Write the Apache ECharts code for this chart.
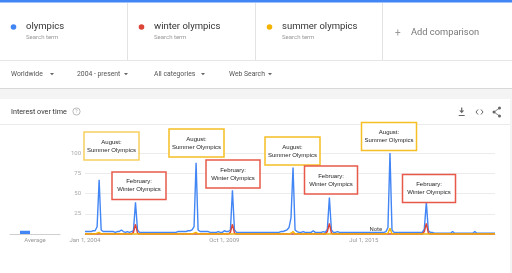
<!DOCTYPE html>
<html>
<head>
<meta charset="utf-8">
<script src="https://cdn.jsdelivr.net/npm/echarts@6/dist/echarts.min.js"></script>
<style>
html,body{margin:0;padding:0;background:#fff;}
#chart{width:512px;height:273px;}
</style>
</head>
<body>
<div id="chart"></div>
<script>
// ---- data ----
var startYear = 2004, endYear = 2020;
var seriesNames = ['olympics', 'winter olympics', 'summer olympics'];
var seriesColors = ['#4285f4', '#db4437', '#f4b400'];

// monthly interest, Jan 2004 .. Dec 2020
var olympics = [
  3,3,3,3,4,4,9,67,5,3,3,3,        // 2004
  3,3,3,2,3,3,5,3,2,3,2,3,         // 2005
  4,39,5,2,2,2,2,2,2,2,2,2,        // 2006
  2,2,2,2,2,2,2,2,2,2,3,3,         // 2007
  3,3,3,4,4,5,9,88,5,3,3,3,        // 2008
  3,3,2,2,2,2,3,2,2,4,3,3,         // 2009
  5,54,5,2,2,2,2,2,2,2,2,2,        // 2010
  2,2,2,2,2,2,2,2,2,2,2,2,         // 2011
  2,3,3,4,5,8,20,82,5,3,2,2,       // 2012
  3,2,2,2,2,4,2,2,2,2,3,2,         // 2013
  6,45,5,2,2,3,2,2,2,2,2,2,        // 2014
  2,2,2,2,2,2,2,2,2,2,2,2,         // 2015
  2,2,2,2,2,3,8,100,5,2,2,2,       // 2016
  2,2,2,2,2,2,2,2,2,2,2,2,         // 2017
  6,39,4,2,2,1,1,1,1,1,1,1,        // 2018
  1,1,3,1,1,1,1,1,1,1,1,1,         // 2019
  1,3,1,1,1,1,1,1,1,1,1,1          // 2020
];
var winterOlympics = [
  0,0,0,0,0,0,0,0,0,0,0,0,
  0,0,0,0,0,0,0,0,0,0,0,0,
  2,12,1,0,0,0,0,0,0,0,0,0,
  0,0,0,0,0,0,0,0,0,0,0,0,
  0,0,0,0,0,0,0,0,0,0,0,0,
  0,0,0,0,0,0,0,0,0,0,0,0,
  2,12,1,0,0,0,0,0,0,0,0,0,
  0,0,0,0,0,0,0,0,0,0,0,0,
  0,0,0,0,0,0,0,0,0,0,0,0,
  0,0,0,0,0,0,0,0,0,0,0,0,
  3,13,1,0,0,0,0,0,0,0,0,0,
  0,0,0,0,0,0,0,0,0,0,0,0,
  0,0,0,0,0,0,0,0,0,0,0,0,
  0,0,0,0,0,0,0,0,0,0,0,0,
  3,13,1,0,0,0,0,0,0,0,0,0,
  0,0,0,0,0,0,0,0,0,0,0,0,
  0,0,0,0,0,0,0,0,0,0,0,0
];
var summerOlympics = [
  0,0,0,0,0,0,1,2,0,0,0,0,
  0,0,0,0,0,0,0,0,0,0,0,0,
  0,0,0,0,0,0,0,0,0,0,0,0,
  0,0,0,0,0,0,0,0,0,0,0,0,
  0,0,0,0,0,0,1,2,0,0,0,0,
  0,0,0,0,0,0,0,0,0,0,0,0,
  0,0,0,0,0,0,0,0,0,0,0,0,
  0,0,0,0,0,0,0,0,0,0,0,0,
  0,0,0,0,0,0,1,3,0,0,0,0,
  0,0,0,0,0,0,0,0,0,0,0,0,
  0,0,0,0,0,0,0,0,0,0,0,0,
  0,0,0,0,0,0,0,0,0,0,0,0,
  0,0,0,0,0,0,1,7,0,0,0,0,
  0,0,0,0,0,0,0,0,0,0,0,0,
  0,0,0,0,0,0,0,0,0,0,0,0,
  0,0,0,0,0,0,0,0,0,0,0,0,
  0,0,0,0,0,0,0,0,0,0,0,0
];
var averages = [4, 0, 0];
var tickMonths = ['2004-01', '2009-10', '2015-07'];
var tickLabels = ['Jan 1, 2004', 'Oct 1, 2009', 'Jul 1, 2015'];
var yTicks = [0, 25, 50, 75, 100];
var noteMonth = '2016-01';
var filters = ['Worldwide', '2004 - present', 'All categories', 'Web Search'];
var annotations = [
  {kind: 'summer', text: 'August:\nSummer Olympics', month: '2004-08'},
  {kind: 'winter', text: 'February:\nWinter Olympics', month: '2006-02'},
  {kind: 'summer', text: 'August:\nSummer Olympics', month: '2008-08'},
  {kind: 'winter', text: 'February:\nWinter Olympics', month: '2010-02'},
  {kind: 'summer', text: 'August:\nSummer Olympics', month: '2012-08'},
  {kind: 'winter', text: 'February:\nWinter Olympics', month: '2014-02'},
  {kind: 'summer', text: 'August:\nSummer Olympics', month: '2016-08'},
  {kind: 'winter', text: 'February:\nWinter Olympics', month: '2018-02'}
];

// categories
var months = [];
for (var y = startYear; y <= endYear; y++) {
  for (var m = 1; m <= 12; m++) months.push(y + '-' + (m < 10 ? '0' + m : m));
}

// ---- layout (pixels) ----
var annBoxes = [
  [84, 132, 55, 28], [112, 172, 54, 27.5], [169, 129, 55, 28], [206, 160, 54, 28],
  [265, 137, 55, 28], [304.5, 166, 53, 28], [361.5, 122.5, 55, 28], [402.5, 174.5, 53, 28]
];
var annStroke = {summer: '#f6bf26', winter: '#e8594a'};
var filterX = [[11, 52], [77, 126], [154, 203], [229, 270]];
var legendX = [13.5, 141.5, 269.5];

var FONT = 'Roboto, "Liberation Sans", Arial, sans-serif';
var AFONT = '"Liberation Sans", Arial, sans-serif';

var g = [];
function txt(x, y, t, size, color, align, extra) {
  var s = {text: t, x: x, y: y, font: (extra || '') + ' ' + size + 'px ' + FONT, fill: color,
    textAlign: align || 'left', align: align || 'left', textVerticalAlign: 'middle', verticalAlign: 'middle'};
  return {type: 'text', style: s, z: 10, silent: true};
}
function line(x1, y1, x2, y2, color, w, z) {
  return {type: 'line', shape: {x1: x1, y1: y1, x2: x2, y2: y2}, style: {stroke: color, lineWidth: w || 1}, z: z || 5, silent: true};
}
// top bar
g.push({type: 'rect', shape: {x: 0, y: 0, width: 512, height: 2.5}, style: {fill: '#4285f4'}, z: 5});
// legend cards
[127.5, 255.5, 382.5].forEach(function (x) { g.push(line(x, 3, x, 60, '#e3e3e3', 1)); });
g.push(line(0, 60.5, 512, 60.5, '#e6e6e6', 1));
seriesNames.forEach(function (n, i) {
  g.push({type: 'circle', shape: {cx: legendX[i], cy: 27, r: 2.8}, style: {fill: seriesColors[i]}, z: 10});
  g.push(txt(legendX[i] + 12.5, 27, n, 9.5, '#333'));
  g.push(txt(legendX[i] + 12.5, 37.5, 'Search term', 6, '#999'));
});
g.push(txt(395, 33, '+', 10, '#999'));
g.push(txt(411, 33, 'Add comparison', 9.3, '#777'));
// filters
filters.forEach(function (f, i) {
  g.push(txt(filterX[i][0], 74, f, 6.8, '#555'));
  var ax = filterX[i][1];
  g.push({type: 'polygon', shape: {points: [[ax - 2, 73], [ax + 2, 73], [ax, 75.3]]}, style: {fill: '#666'}, z: 10});
});
// gray band + shadow
g.push({type: 'rect', shape: {x: 0, y: 88, width: 512, height: 11}, style: {fill: '#f4f4f4'}, z: 1});
g.push(line(0, 88.5, 512, 88.5, '#d8d8d8', 1));
g.push({type: 'rect', shape: {x: 510, y: 99, width: 2, height: 174}, style: {fill: '#f4f4f4'}, z: 1});
// card header
g.push(txt(11, 112, 'Interest over time', 7.2, '#333'));
g.push({type: 'circle', shape: {cx: 76.5, cy: 111.5, r: 3.6}, style: {fill: 'none', stroke: '#aaa', lineWidth: 0.8}, z: 10});
g.push(txt(76.5, 111.8, '?', 5, '#aaa', 'center'));
g.push(line(0, 124.5, 510, 124.5, '#ebebeb', 1));
// download icon
g.push(line(461.7, 107.5, 461.7, 111.5, '#666', 1.2));
g.push({type: 'polygon', shape: {points: [[459.2, 110.5], [464.2, 110.5], [461.7, 113.3]]}, style: {fill: '#666'}, z: 10});
g.push(line(458.7, 115.5, 464.7, 115.5, '#666', 1));
// code icon
g.push({type: 'polyline', shape: {points: [[478, 109.5], [476, 112], [478, 114.5]]}, style: {stroke: '#666', lineWidth: 1, fill: null}, z: 10});
g.push({type: 'polyline', shape: {points: [[481, 109.5], [483, 112], [481, 114.5]]}, style: {stroke: '#666', lineWidth: 1, fill: null}, z: 10});
// share icon
g.push({type: 'polyline', shape: {points: [[499.5, 108], [494, 112], [499.5, 116]]}, style: {stroke: '#666', lineWidth: 0.8, fill: null}, z: 10});
[[499.5, 108], [494, 112], [499.5, 116]].forEach(function (p) {
  g.push({type: 'circle', shape: {cx: p[0], cy: p[1], r: 1.5}, style: {fill: '#666'}, z: 10});
});
// annotations
annotations.forEach(function (a, i) {
  var b = annBoxes[i];
  g.push({type: 'rect', shape: {x: b[0], y: b[1], width: b[2], height: b[3]},
    style: {fill: '#fff', stroke: annStroke[a.kind], lineWidth: 1.5, opacity: i === 0 ? 0.75 : 1}, z: 100});
  g.push({type: 'text', z: 101, style: {text: a.text, x: b[0] + b[2] / 2, y: b[1] + b[3] / 2,
    font: '6px ' + AFONT, fill: '#222', lineHeight: 8, textAlign: 'center', align: 'center',
    textVerticalAlign: 'middle', verticalAlign: 'middle'}});
});

var chart = echarts.init(document.getElementById('chart'), null, {renderer: 'canvas'});
var lineData = [olympics, winterOlympics, summerOlympics];
var series = [];
lineData.forEach(function (d, i) {
  series.push({
    name: seriesNames[i], type: 'line', xAxisIndex: 0, yAxisIndex: 0, data: d,
    showSymbol: false, symbol: 'none', lineStyle: {color: seriesColors[i], width: 1.4},
    itemStyle: {color: seriesColors[i]}, z: i === 0 ? 3 : 4, animation: false,
    markPoint: i === 0 ? {
      symbol: 'circle', symbolSize: 0, silent: true,
      data: [{coord: [noteMonth, 0]}],
      label: {show: true, formatter: 'Note', position: 'top', distance: 2, fontSize: 6, color: '#444', fontFamily: FONT}
    } : undefined
  });
});
averages.forEach(function (v, i) {
  series.push({
    name: seriesNames[i] + ' avg', type: 'bar', xAxisIndex: 1, yAxisIndex: 1, data: [v],
    barWidth: 10, barGap: '0%', itemStyle: {color: seriesColors[i]}, animation: false
  });
});

chart.setOption({
  animation: false,
  textStyle: {fontFamily: FONT},
  grid: [
    {left: 85, right: 17, top: 153, bottom: 39},
    {left: 10, width: 50, top: 153, bottom: 39}
  ],
  xAxis: [
    {type: 'category', gridIndex: 0, data: months, boundaryGap: false,
      axisLine: {lineStyle: {color: '#cfcfcf', width: 1}}, axisTick: {show: false},
      axisLabel: {fontSize: 6, color: '#999', margin: 3,
        interval: function (idx, val) { return tickMonths.indexOf(val) >= 0; },
        formatter: function (val) { var k = tickMonths.indexOf(val); return k >= 0 ? tickLabels[k] : ''; }},
      splitLine: {show: false}},
    {type: 'category', gridIndex: 1, data: ['Average'],
      axisLine: {lineStyle: {color: '#cfcfcf', width: 1}}, axisTick: {show: false},
      axisLabel: {fontSize: 6, color: '#999', margin: 3}}
  ],
  yAxis: [
    {type: 'value', gridIndex: 0, min: yTicks[0], max: yTicks[yTicks.length - 1], interval: 25,
      axisLine: {show: false}, axisTick: {show: false},
      axisLabel: {fontSize: 6, color: '#aaa', margin: 4, formatter: function (v) { return v === 0 ? '' : v; }},
      splitLine: {lineStyle: {color: '#ececec', width: 1}}},
    {type: 'value', gridIndex: 1, min: 0, max: 100, show: false, splitLine: {show: false}}
  ],
  series: series,
  graphic: g
});
</script>
</body>
</html>
